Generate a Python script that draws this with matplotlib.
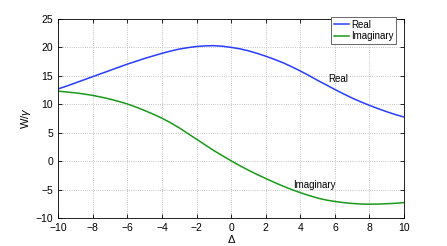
import matplotlib
matplotlib.use("Agg")
import matplotlib.pyplot as plt

plt.rcParams['font.family'] = ['Liberation Sans', 'DejaVu Sans']
plt.rcParams['mathtext.fontset'] = 'custom'
plt.rcParams['mathtext.it'] = 'Liberation Sans:italic'
plt.rcParams['mathtext.rm'] = 'Liberation Sans'

# values, every half unit of Delta
delta = [-10, -9.5, -9, -8.5, -8, -7.5, -7, -6.5, -6, -5.5, -5, -4.5, -4, -3.5,
         -3, -2.5, -2, -1.5, -1, -0.5, 0, 0.5, 1, 1.5, 2, 2.5, 3, 3.5, 4, 4.5,
         5, 5.5, 6, 6.5, 7, 7.5, 8, 8.5, 9, 9.5, 10]
real_part = [12.7, 13.2, 13.75, 14.3, 14.85, 15.4, 15.95, 16.5, 17.05, 17.55,
             18.05, 18.5, 18.95, 19.35, 19.7, 19.95, 20.15, 20.27, 20.3, 20.2,
             20.0, 19.75, 19.4, 18.95, 18.45, 17.9, 17.3, 16.6, 15.85, 15.05,
             14.2, 13.4, 12.6, 11.82, 11.08, 10.42, 9.8, 9.22, 8.68, 8.18, 7.75]
imag_part = [12.3, 12.15, 12.0, 11.8, 11.55, 11.25, 10.9, 10.5, 10.05, 9.5,
             8.9, 8.25, 7.55, 6.75, 5.85, 4.85, 3.85, 2.85, 1.85, 0.95,
             0.05, -0.8, -1.6, -2.35, -3.05, -3.75, -4.4, -5.0, -5.55, -6.05,
             -6.5, -6.85, -7.1, -7.3, -7.45, -7.55, -7.58, -7.56, -7.5, -7.42, -7.3]
xticks = [-10, -8, -6, -4, -2, 0, 2, 4, 6, 8, 10]
yticks = [-10, -5, 0, 5, 10, 15, 20, 25]

fig = plt.figure(figsize=(4.47, 2.46), dpi=100)
ax = fig.add_axes([0.130, 0.114, 0.774, 0.809])

ax.plot(delta, real_part, color='#2a3cff', lw=1.1, label='Real')
ax.plot(delta, imag_part, color='#1a9a1a', lw=1.1, label='Imaginary')

ax.text(6.2, 14.5, 'Real', fontsize=7, ha='center', va='center')
ax.text(4.8, -4.2, 'Imaginary', fontsize=7, ha='center', va='center')

ax.set_xlim(-10, 10)
ax.set_ylim(-10, 25)
ax.set_xticks(xticks)
ax.set_yticks(yticks)
ax.tick_params(labelsize=7.5, direction='in', length=3, width=0.6)
ax.tick_params(top=True, right=True)
ax.grid(True, linestyle=':', color='#b0b0b0', lw=0.6)
for s in ax.spines.values():
    s.set_linewidth(0.6)

ax.set_xlabel(r'$\Delta$', fontsize=8, labelpad=0)
ax.set_ylabel(r'W/$\gamma$', fontsize=8, labelpad=2)

leg = ax.legend(loc='upper right', bbox_to_anchor=(0.977, 1.008), fontsize=7,
                fancybox=False, framealpha=1, edgecolor='#505050',
                borderpad=0.25, handlelength=1.6, handletextpad=0.2,
                labelspacing=0.15, borderaxespad=0)
leg.get_frame().set_linewidth(0.6)

fig.savefig('out.png', dpi=100)
